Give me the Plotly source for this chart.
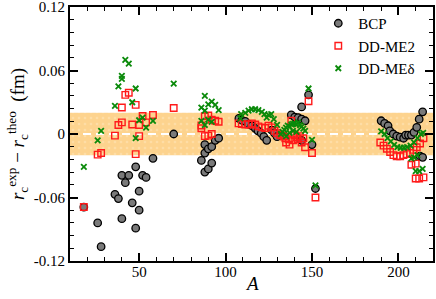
import plotly.graph_objects as go

# ---- data ----
bcp_A = [18, 26, 28, 36, 38, 40, 40, 42, 44, 46, 48, 48, 50, 50, 52, 54, 58, 70,
         86, 88, 88, 88, 90, 90, 92, 92, 94, 96,
         107.7, 109.4, 111.4, 113.3, 115.2, 117.2, 118.7, 120.6, 122.1, 123.8,
         126.7, 128.3, 129.8,
         138, 140, 142, 144, 146, 144, 148, 144, 150, 152,
         190, 192, 194, 195, 197, 199, 201, 203, 204.2, 205.8, 207.5, 209, 210.6, 212, 214, 212.5, 214]
bcp_dr = [-0.069, -0.084, -0.1065, -0.057, -0.061, -0.039, -0.080, -0.046, -0.039, -0.065, -0.031, -0.089,
          -0.054, -0.072, -0.039, -0.041, -0.023, 0.0,
          -0.025, -0.010, -0.018, -0.036, -0.014, -0.033, -0.0275, -0.012, -0.006, -0.004,
          0.0147, 0.013, 0.012, 0.0094, 0.0078, 0.0053, 0.003, 0.0007, -0.0025, -0.006,
          0.0037, 0.0007, -0.0025,
          0.018, 0.016, 0.0155, 0.014, 0.0125, 0.0256, 0.037, -0.006, -0.010, -0.0515,
          0.0125, 0.010, 0.0078, 0.003, 0.0, -0.002, -0.003, -0.004, -0.001, -0.001, -0.001, 0.0016,
          0.0063, 0.014, 0.021, -0.021, -0.022]

me2_A = [18, 26, 28, 36, 38, 40, 40, 42, 44, 46, 48, 48, 50, 50, 52, 54, 58, 70,
         86, 86, 88, 88, 90, 90, 92, 92, 94, 96,
         107.5, 109.4, 111.4, 113.3, 115.2, 117.2, 119, 121, 122.9, 124.8, 126.7, 128.3, 129.8, 131.6, 133.7,
         133, 134.6, 136.5, 138, 139.9, 141.8, 144, 146, 135, 137, 139, 141, 143, 145,
         148, 150, 152,
         189.5, 191.4, 193.3, 195.2, 197.1, 199, 201, 202.9, 204.8, 206.7, 208.7, 210.6, 212.5, 214.5,
         207.5, 210, 210, 212, 214.5]
me2_dr = [-0.069, -0.0195, -0.018, -0.0015, 0.0085, 0.011, 0.025, 0.037, 0.039, 0.009, 0.0275, -0.019,
          0.0085, -0.002, 0.017, 0.011, 0.018, 0.0245,
          0.008, 0.0055, 0.0168, -0.002, 0.0175, -0.0015, 0.0134, 0.0, 0.0125, 0.0116,
          0.010, 0.0094, 0.009, 0.009, 0.010, 0.009, 0.0072, 0.0063, 0.0056, 0.0078, 0.0063, 0.003, 0.0007,
          -0.001, -0.0025,
          -0.0015, -0.004, -0.005, 0.0125, -0.001, -0.005, -0.008, -0.0125, -0.008, -0.010, -0.006, -0.003,
          -0.002, -0.004,
          0.031, -0.018, -0.060,
          -0.008, -0.011, -0.014, -0.017, -0.020, -0.021, -0.021, -0.020, -0.019, -0.018, -0.015, -0.0125,
          -0.009, -0.004,
          -0.029, -0.028, -0.042, -0.042, -0.041]

med_A = [18, 26, 28, 36, 38, 40, 40, 42, 44, 46, 48, 48, 50, 52, 54, 58, 70,
         86, 86, 88, 88, 88, 90, 90, 92, 92, 94, 96,
         108.6, 109, 111.4, 113.3, 115.2, 117.1, 119, 121, 122.5, 123.8, 124.8, 126.4, 127.9, 129.8,
         132, 133, 134, 135, 136, 137, 138, 139, 140, 141, 142, 143, 144, 145, 146, 135, 137, 139, 141,
         148, 150, 152,
         190, 192, 193.7, 195.6, 197.5, 199.4, 201.3, 203.2, 205, 207, 209, 211, 213, 214.3,
         207.5, 209, 211, 210, 212, 214]
med_dr = [-0.031, -0.006, 0.003, 0.0265, 0.045, 0.052, 0.055, 0.070, 0.0665, 0.030, 0.043, -0.004,
          0.013, 0.0155, 0.006, 0.0125, 0.0475,
          0.025, 0.0125, 0.036, 0.022, 0.0085, 0.028, 0.0135, 0.0306, 0.0115, 0.0275, 0.0225,
          0.0147, 0.0187, 0.020, 0.022, 0.0234, 0.0234, 0.0225, 0.021, 0.0187, 0.0155, 0.018, 0.0187,
          0.014, 0.0087,
          0.0, 0.002, 0.004, 0.006, 0.008, 0.007, 0.009, 0.0095, 0.010, 0.009, 0.011, 0.0085, 0.007,
          0.005, 0.003, -0.002, 0.001, 0.003, 0.002,
          0.043, -0.0056, -0.0485,
          0.0025, 0.0, -0.004, -0.007, -0.0103, -0.0125, -0.013, -0.013, -0.0125, -0.011, -0.008, -0.004,
          0.0, 0.001,
          -0.023, -0.022, -0.020, -0.035, -0.035, -0.033]

x_range = [10, 220]
y_range = [-0.12, 0.12]
band = [-0.02, 0.02]
y_ticks = [-0.12, -0.06, 0, 0.06, 0.12]
y_ticktext = ["-0.12", "-0.06", "0", "0.06", "0.12"]
x_ticks = [50, 100, 150, 200]

serif = "Liberation Serif, Times New Roman, serif"

fig = go.Figure()

# uncertainty band
fig.add_trace(go.Scatter(
    x=[x_range[0], x_range[1], x_range[1], x_range[0], x_range[0]],
    y=[band[0], band[0], band[1], band[1], band[0]],
    mode="lines", fill="toself", line=dict(width=0),
    fillcolor="#FDD38E",
    fillpattern=dict(shape=".", fgcolor="#FFE8BE", bgcolor="#FDD38E", size=6, solidity=0.15),
    hoverinfo="skip", showlegend=False))
# zero dashed line
fig.add_trace(go.Scatter(
    x=x_range, y=[0, 0], mode="lines",
    line=dict(color="white", width=2, dash="8px,5px"),
    hoverinfo="skip", showlegend=False))

fig.add_trace(go.Scatter(
    x=bcp_A, y=bcp_dr, mode="markers", name="BCP",
    marker=dict(symbol="circle", size=7.5, color="#7A7A7A",
                line=dict(color="black", width=1.3))))
fig.add_trace(go.Scatter(
    x=me2_A, y=me2_dr, mode="markers", name="DD-ME2",
    marker=dict(symbol="square-open", size=6.5, color="#FF1A1A",
                line=dict(color="#FF1A1A", width=1.4))))
fig.add_trace(go.Scatter(
    x=med_A, y=med_dr, mode="markers", name="DD-MEδ",
    marker=dict(symbol="x-thin-open", size=5.5, color="#0A8A0A",
                line=dict(color="#0A8A0A", width=1.8))))

axis_common = dict(
    showline=True, linecolor="black", linewidth=2, mirror="ticks",
    ticks="inside", ticklen=8, tickwidth=1.5, tickcolor="black",
    showgrid=False, zeroline=False, automargin=False, ticklabeloverflow="allow",
    tickfont=dict(family=serif, size=15, color="black"),
)

fig.update_xaxes(
    range=x_range, tickvals=x_ticks, ticklabelstandoff=-4,
    minor=dict(dtick=10, ticks="inside", ticklen=4, tickwidth=1.2, tickcolor="black", showgrid=False),
    **axis_common)
fig.update_yaxes(
    range=y_range, tickvals=y_ticks, ticktext=y_ticktext,
    minor=dict(dtick=0.012, tick0=0, ticks="inside", ticklen=4, tickwidth=1.2, tickcolor="black", showgrid=False),
    title=dict(text="<i>r</i><sub>c</sub><sup>exp</sup> − <i>r</i><sub>c</sub><sup>theo</sup>  (fm)",
               font=dict(family=serif, size=19, color="black"), standoff=4),
    **axis_common)

# x-axis title as an annotation so it can sit closer to the tick labels
fig.add_annotation(text="<i>A</i>", xref="paper", yref="paper", x=0.5, y=-0.088,
                   xanchor="center", yanchor="middle", showarrow=False,
                   font=dict(family=serif, size=19, color="black"))

fig.update_layout(
    width=436, height=299,
    margin=dict(l=70, r=3, t=7, b=38),
    paper_bgcolor="white", plot_bgcolor="white",
    font=dict(family=serif, color="black"),
    legend=dict(x=0.684, y=1.0, xanchor="left", yanchor="top",
                bgcolor="rgba(0,0,0,0)", borderwidth=0,
                font=dict(family=serif, size=15, color="black"),
                itemsizing="trace", tracegroupgap=0),
    showlegend=True,
)

fig.write_html("out.html", config={"displayModeBar": False},
               post_script="document.body.style.margin='0px';document.body.style.overflow='hidden';")
